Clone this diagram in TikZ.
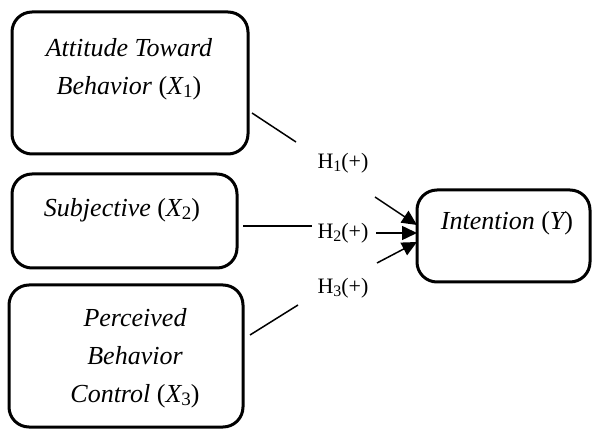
\documentclass[tikz,border=0pt]{standalone}
\usepackage{fontspec}
\setmainfont{Liberation Serif}
\usetikzlibrary{arrows.meta}
\newcommand{\mysub}[2]{\raisebox{-0.3ex}{\fontsize{#1}{#1}\selectfont\upshape #2}}
\newcommand{\myvar}[2]{{\upshape(}\textit{#1}\mysub{19}{#2}{\upshape)}}
\newcommand{\myvarn}[1]{{\upshape(}\textit{#1}{\upshape)}}
\begin{document}
\begin{tikzpicture}[x=1pt,y=-1pt,
  box/.style={draw,line width=3pt,rounded corners=20pt},
  boxtext/.style={font=\fontsize{26}{38}\selectfont\itshape,align=center,inner sep=0pt},
  hlab/.style={font=\fontsize{22}{24}\selectfont,inner sep=0pt},
  conn/.style={line width=1.5pt},
  arr/.style={line width=1.5pt,-{Triangle[length=15pt,width=14pt]}}]
\useasboundingbox (0,0) rectangle (592,430);
% boxes
\draw[box] (12,12) rectangle (248,154);
\draw[box] (12,174) rectangle (237,268);
\draw[box] (9,285) rectangle (243,427);
\draw[box] (417,190) rectangle (590,282);
\node[boxtext] (t1) at (129,69) {Attitude Toward\\Behavior \myvar{X}{1}};
\node[boxtext] (t2) at (122,210) {Subjective \myvar{X}{2}};
\node[boxtext] (t3) at (135,358) {Perceived\\Behavior\\Control \myvar{X}{3}};
\node[boxtext] (ty) at (507,223) {Intention \myvarn{Y}};
% labels
\node[hlab] (h1) at (343,163) {H\mysub{16}{1}(+)};
\node[hlab] (h2) at (343,233) {H\mysub{16}{2}(+)};
\node[hlab] (h3) at (343,288) {H\mysub{16}{3}(+)};
% coordinates
\coordinate (s1) at (252,113);
\coordinate (e1) at (296,142);
\coordinate (a1) at (375,197);
\coordinate (y1) at (417,225);
\coordinate (s2) at (243,226);
\coordinate (e2) at (312,226);
\coordinate (a2) at (376,233);
\coordinate (y2) at (417,233);
\coordinate (s3) at (250,335);
\coordinate (e3) at (298,305);
\coordinate (a3) at (377,263);
\coordinate (y3) at (417,242);
% connectors
\draw[conn] (s1) -- (e1);
\draw[arr] (a1) -- (y1);
\draw[conn] (s2) -- (e2);
\draw[arr] (a2) -- (y2);
\draw[conn] (s3) -- (e3);
\draw[arr] (a3) -- (y3);
\end{tikzpicture}
\end{document}
